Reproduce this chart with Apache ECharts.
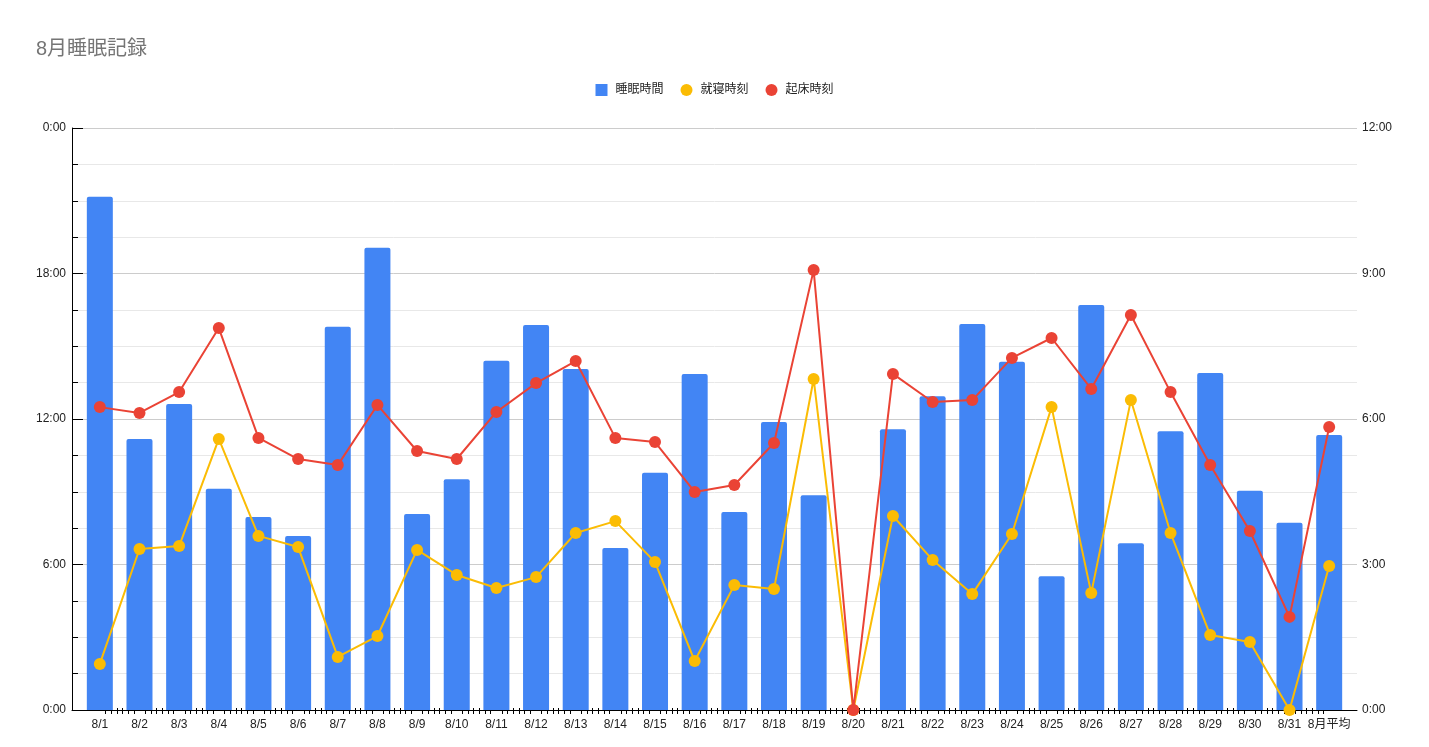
<!DOCTYPE html>
<html>
<head>
<meta charset="utf-8">
<script src="https://cdn.jsdelivr.net/npm/echarts@6/dist/echarts.min.js"></script>
<style>
html,body{margin:0;padding:0;background:#fff;}
#main{width:1429px;height:747px;}
</style>
</head>
<body>
<div id="main"></div>
<script>
const titleText = '8月睡眠記録';
const categories = ['8/1','8/2','8/3','8/4','8/5','8/6','8/7','8/8','8/9','8/10','8/11','8/12','8/13','8/14','8/15','8/16','8/17','8/18','8/19','8/20','8/21','8/22','8/23','8/24','8/25','8/26','8/27','8/28','8/29','8/30','8/31','8月平均'];
// hours of sleep (right axis)
const sleepHours = [10.58,5.59,6.31,4.56,3.98,3.59,7.90,9.53,4.04,4.76,7.20,7.94,7.03,3.34,4.89,6.93,4.08,5.94,4.43,0,5.79,6.47,7.96,7.18,2.76,8.35,3.44,5.75,6.95,4.52,3.86,5.67];
// bedtime, hour of day (left axis)
const bedTime = [1.90,6.64,6.76,11.18,7.18,6.72,2.19,3.05,6.60,5.57,5.03,5.48,7.30,7.79,6.10,2.02,5.15,4.99,13.65,0,8.00,6.19,4.78,7.26,12.49,4.82,12.78,7.30,3.09,2.80,0,5.94];
// wake time, hour of day (left axis)
const wakeTime = [12.49,12.25,13.11,15.75,11.22,10.35,10.10,12.58,10.68,10.35,12.29,13.48,14.39,11.22,11.05,8.99,9.28,11.01,18.14,0,13.86,12.70,12.78,14.52,15.34,13.24,16.29,13.11,10.10,7.38,3.84,11.67];
const seriesNames = ['睡眠時間','就寝時刻','起床時刻'];
const leftTicks = {min:0, max:24, interval:6};
const rightTicks = {min:0, max:12, interval:3};

const FONT = '"Liberation Sans", Arial, "Noto Sans CJK JP", sans-serif';
const chart = echarts.init(document.getElementById('main'));
const hm = v => (v % 24) + ':00';
const option = {
  animation: false,
  textStyle: {fontFamily: FONT},
  title: {text: titleText, left: 31, top: 34, textStyle: {fontFamily: FONT, fontSize: 20, fontWeight: 'normal', color: '#757575'}},
  legend: {
    top: 79, left: 'center', itemWidth: 12, itemHeight: 12, itemGap: 17,
    textStyle: {fontFamily: FONT, fontSize: 12, color: '#222', padding: [0, 0, 0, 3]},
    data: [{name: seriesNames[0], icon: 'rect'}, {name: seriesNames[1], icon: 'circle'}, {name: seriesNames[2], icon: 'circle'}]
  },
  grid: [
    {left: 80, right: 80, top: 128, bottom: 37},
    {left: 72, right: 72, top: 128, bottom: 37},
    {left: 99.83, right: 99.83, top: 128, bottom: 37}
  ],
  xAxis: [
    {type: 'category', gridIndex: 0, data: categories, axisLine: {show: false}, axisTick: {show: false},
     axisLabel: {color: '#222', fontSize: 12, margin: 9, interval: 0, fontFamily: FONT}},
    {type: 'value', gridIndex: 1, min: 0, max: 1, axisLine: {show: true, lineStyle: {color: '#000', width: 1}},
     axisTick: {show: false}, axisLabel: {show: false}, splitLine: {show: false}},
    {type: 'value', gridIndex: 2, min: 0, max: categories.length - 1, interval: 1, offset: -2,
     axisLine: {show: false}, axisTick: {show: false}, axisLabel: {show: false}, splitLine: {show: false},
     minorTick: {show: true, splitNumber: 7, length: 6, lineStyle: {color: '#000', width: 1}}}
  ],
  yAxis: [
    {type: 'value', gridIndex: 0, show: false, min: leftTicks.min, max: leftTicks.max, interval: leftTicks.interval},
    {type: 'value', gridIndex: 0, show: false, position: 'right', min: rightTicks.min, max: rightTicks.max, interval: rightTicks.interval},
    {type: 'value', gridIndex: 1, position: 'left', min: leftTicks.min, max: leftTicks.max, interval: leftTicks.interval,
     axisLine: {show: true, lineStyle: {color: '#000', width: 1}},
     axisTick: {show: true, inside: true, length: 11, lineStyle: {color: '#000'}},
     minorTick: {show: true, splitNumber: 4, length: 6, lineStyle: {color: '#000'}},
     axisLabel: {formatter: hm, color: '#222', fontSize: 12, margin: 6, fontFamily: FONT},
     splitLine: {show: true, lineStyle: {color: '#cccccc', width: 1}},
     minorSplitLine: {show: true, lineStyle: {color: '#e8e8e8', width: 1}}},
    {type: 'value', gridIndex: 1, position: 'right', min: rightTicks.min, max: rightTicks.max, interval: rightTicks.interval,
     axisLine: {show: false}, axisTick: {show: false}, splitLine: {show: false},
     axisLabel: {formatter: hm, color: '#222', fontSize: 12, margin: 5, fontFamily: FONT}},
    {type: 'value', gridIndex: 2, show: false, min: 0, max: 1}
  ],
  series: [
    {name: seriesNames[0], type: 'bar', xAxisIndex: 0, yAxisIndex: 1, data: sleepHours, barWidth: 26,
     itemStyle: {color: '#4285F4', borderRadius: [2, 2, 0, 0]}, z: 2},
    {name: seriesNames[1], type: 'line', xAxisIndex: 0, yAxisIndex: 0, data: bedTime, symbol: 'circle', symbolSize: 12,
     lineStyle: {color: '#FBBC04', width: 2}, itemStyle: {color: '#FBBC04'}, z: 3},
    {name: seriesNames[2], type: 'line', xAxisIndex: 0, yAxisIndex: 0, data: wakeTime, symbol: 'circle', symbolSize: 12,
     lineStyle: {color: '#EA4335', width: 2}, itemStyle: {color: '#EA4335'}, z: 4}
  ]
};
chart.setOption(option);
</script>
</body>
</html>
